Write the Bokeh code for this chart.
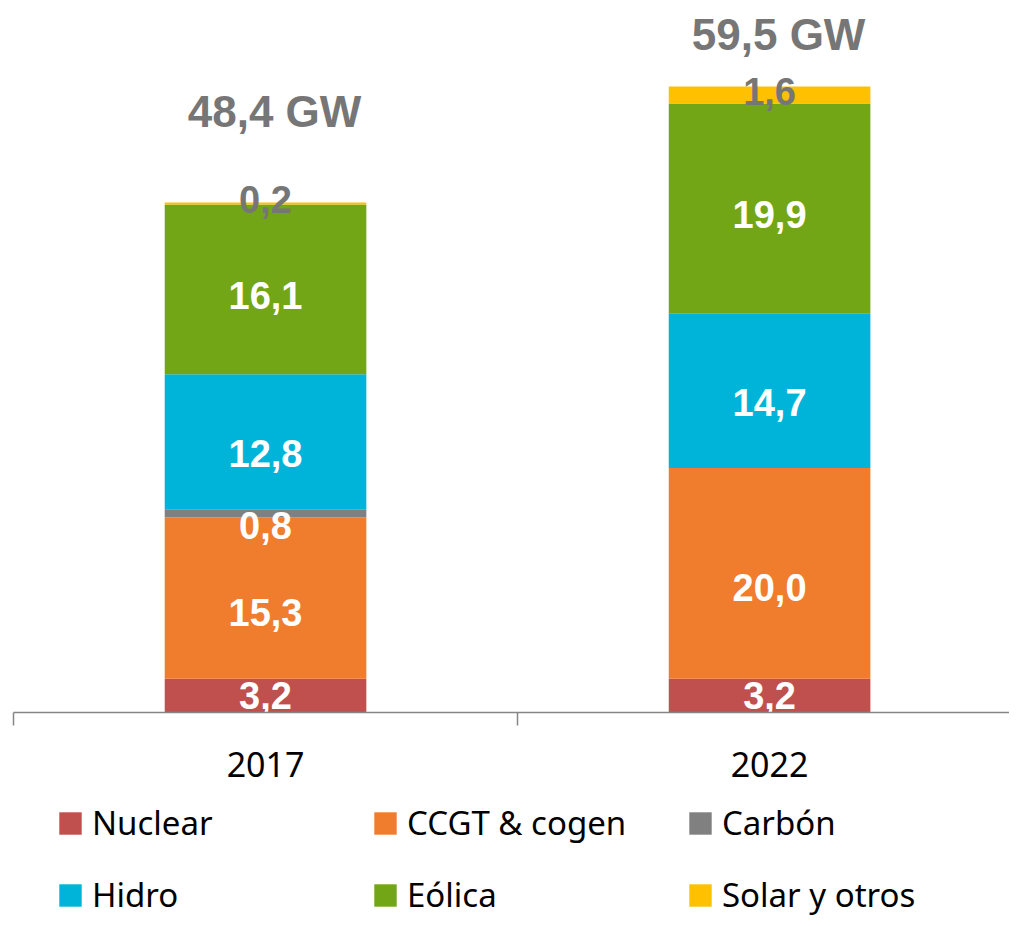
import numpy as np
from bokeh.plotting import figure
from bokeh.layouts import column
from bokeh.models import (ColumnDataSource, Range1d, FixedTicker, Legend, LegendItem)
from bokeh.core.properties import value
from bokeh.embed import file_html
from bokeh.resources import INLINE

years = ["2017", "2022"]
series = ["Nuclear", "CCGT & cogen", "Carbón", "Hidro", "Eólica", "Solar y otros"]
nuclear = [3.2, 3.2]
ccgt = [15.3, 20.0]
carbon = [0.8, 0.0]
hidro = [12.8, 14.7]
eolica = [16.1, 19.9]
solar = [0.2, 1.6]
totals = ["48,4 GW", "59,5 GW"]

values = [nuclear, ccgt, carbon, hidro, eolica, solar]
colors = ["#C0504D", "#F07C2D", "#808080", "#00B4D9", "#72A616", "#FFC000"]
label_colors = ["white", "white", "white", "white", "white", "#767676"]
label_dy = [0, 14, 12, 12, 6, -4]      # style: pixel nudge of segment labels
total_offsets = [-91, -52]            # style: pixel offset of total labels

W = 1009
p = figure(width=W, height=790, output_backend="svg", toolbar_location=None,
           x_range=Range1d(0, 1.976), y_range=Range1d(0, 67.57),
           min_border_left=13, min_border_right=0, min_border_top=0,
           min_border_bottom=78)
p.outline_line_color = None
p.grid.visible = False
p.yaxis.visible = False

# legend strip below the chart (its renderers are hidden, only legend swatches show)
lf = figure(width=W, height=128, output_backend="svg", toolbar_location=None,
            x_axis_location=None, y_axis_location=None,
            x_range=Range1d(0, 1.976), y_range=Range1d(0, 67.57),
            min_border_left=0, min_border_right=0, min_border_top=0,
            min_border_bottom=0)
lf.outline_line_color = None
lf.grid.visible = False

xs = np.arange(len(years)) + 0.5
bottom = np.zeros(len(years))
leg_renderers = []
for name, vals, col, lc, dy in zip(series, values, colors, label_colors, label_dy):
    vals = np.array(vals, dtype=float)
    top = bottom + vals
    src = ColumnDataSource(dict(x=xs, bottom=bottom, top=top,
                                mid=(bottom + top) / 2,
                                lab=[("%.1f" % v).replace(".", ",") if v > 0 else "" for v in vals]))
    p.vbar(x="x", bottom="bottom", top="top", width=0.4, source=src,
           fill_color=col, line_color=None)
    p.text(x="x", y="mid", text="lab", source=src, text_color=lc,
           text_font=value("Liberation Sans"), text_font_style="bold",
           text_font_size="38px", text_align="center", text_baseline="middle",
           y_offset=dy)
    r = lf.vbar(x="x", bottom="bottom", top="top", width=0.4, source=src,
                fill_color=col, line_color=None)
    r.visible = False
    leg_renderers.append(r)
    bottom = top

tsrc = ColumnDataSource(dict(x=xs, y=bottom, lab=totals, off=total_offsets))
p.text(x="x", y="y", text="lab", source=tsrc, text_color="#767676",
       text_font=value("Liberation Sans"), text_font_style="bold",
       text_font_size="44px", text_align="center", text_baseline="middle",
       x_offset=9, y_offset="off")

ax = p.xaxis[0]
ax.ticker = FixedTicker(ticks=list(xs), minor_ticks=list(np.arange(len(years) + 1)))
ax.major_label_overrides = {float(x): y for x, y in zip(xs, years)}
ax.major_tick_line_color = None
ax.major_tick_out = 0
ax.major_tick_in = 0
ax.minor_tick_line_color = "#868686"
ax.minor_tick_line_width = 1.5
ax.minor_tick_out = 13
ax.minor_tick_in = 0
ax.axis_line_color = "#868686"
ax.axis_line_width = 1.5
ax.major_label_text_font = "Noto Sans"
ax.major_label_text_font_size = "34px"
ax.major_label_text_color = "black"
ax.major_label_standoff = 26

order = [0, 3, 1, 4, 2, 5]   # legend fills column by column
items = [LegendItem(label=series[i], renderers=[leg_renderers[i]]) for i in order]
legend = Legend(items=items, ncols=3, location=(43, 1),
                label_text_font="Noto Sans", label_text_font_size="33px",
                label_text_color="black", glyph_width=28, glyph_height=28,
                label_standoff=8, label_width=252, label_height=34,
                spacing=27, padding=0, margin=0, border_line_color=None,
                background_fill_alpha=0, click_policy="none")
lf.add_layout(legend, "center")

layout = column(p, lf, spacing=0)
open("out.html", "w").write(file_html(layout, INLINE))
